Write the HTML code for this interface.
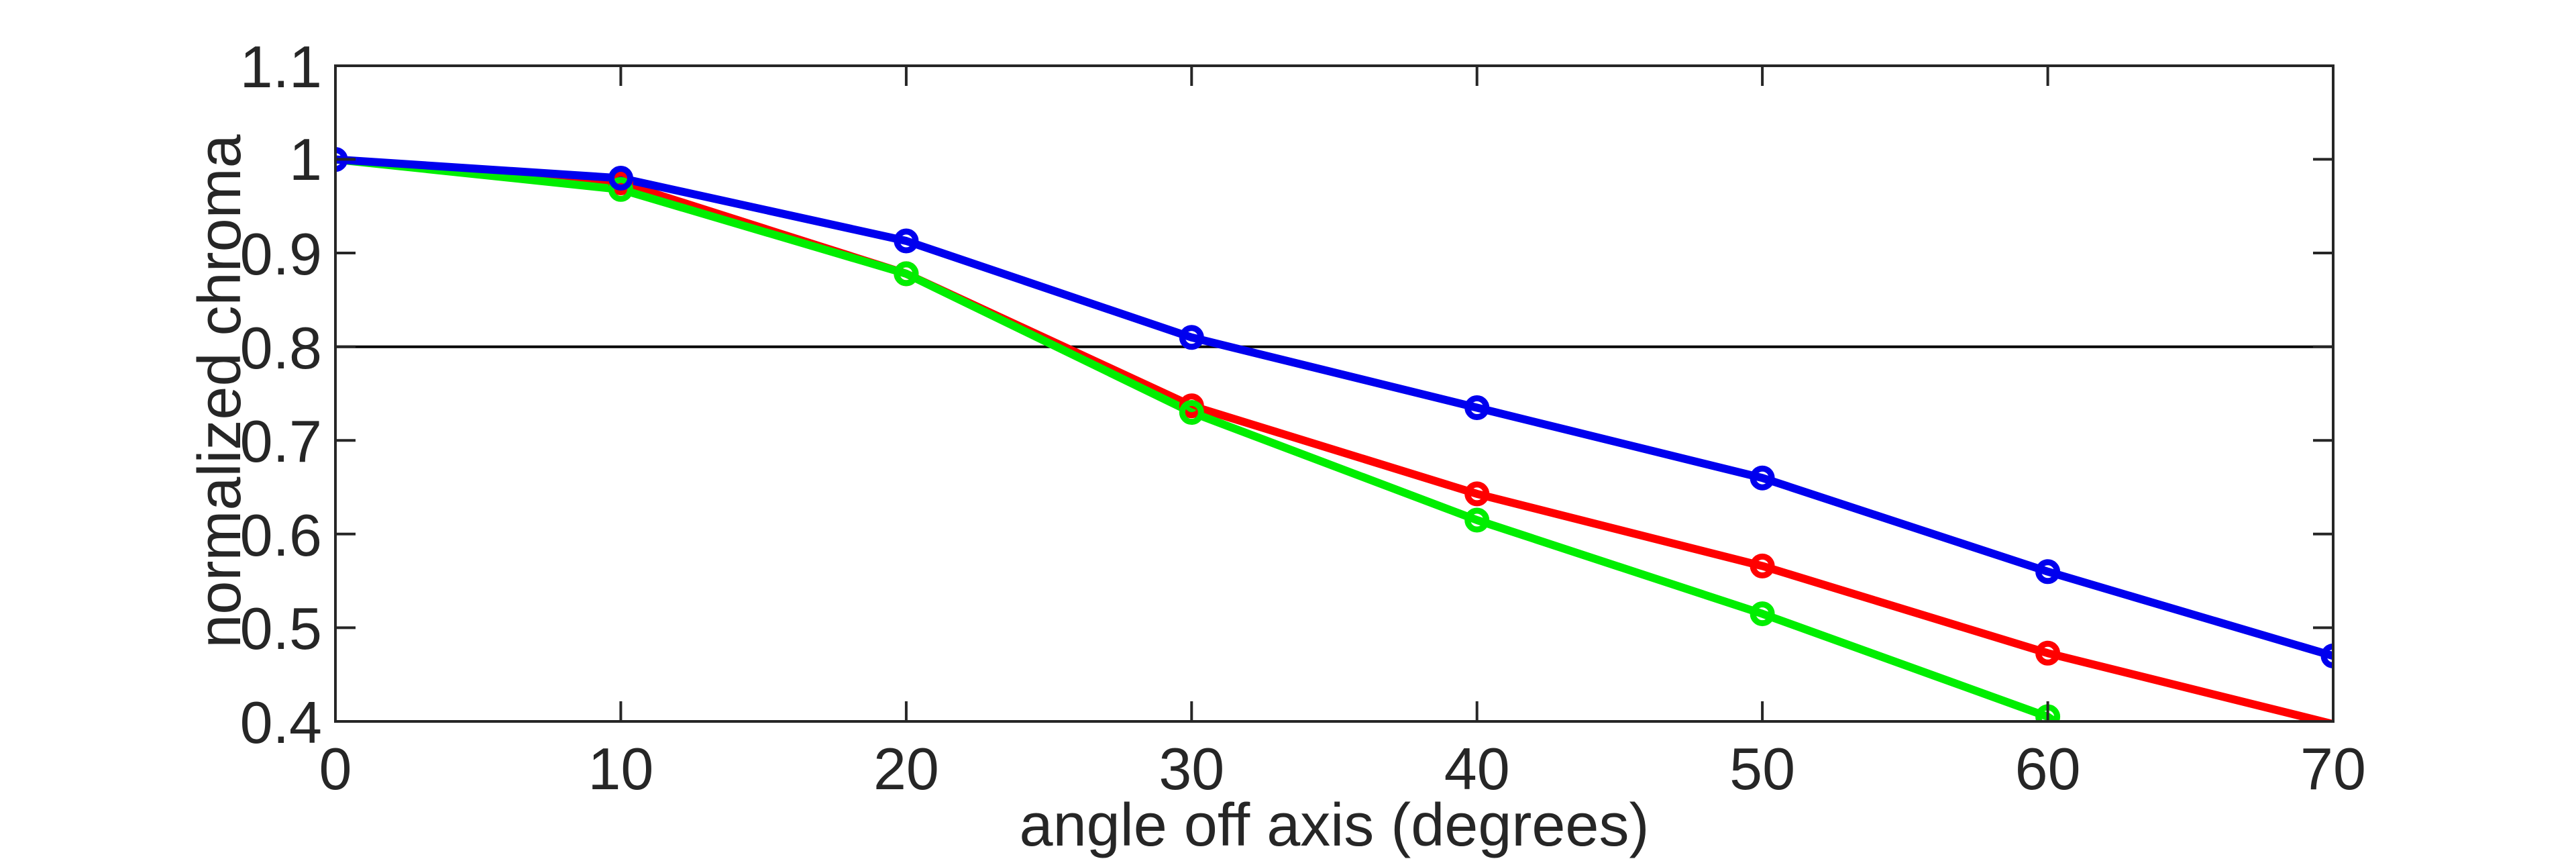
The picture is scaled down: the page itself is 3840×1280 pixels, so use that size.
<!DOCTYPE html>
<html><head><style>html,body{margin:0;padding:0;background:#fff;overflow:hidden}svg{display:block}</style></head>
<body>
<svg width="3840" height="1280" viewBox="0 0 3840 1280" xmlns="http://www.w3.org/2000/svg" font-family="Liberation Sans, Arial, sans-serif" fill="#262626">
<defs><clipPath id="c"><rect x="500" y="98" width="2978" height="977"/></clipPath></defs>
<rect width="3840" height="1280" fill="#fff"/>
<g clip-path="url(#c)" fill="none" stroke-width="12" stroke-linejoin="round">
<line x1="500" y1="516.8" x2="3478" y2="516.8" stroke="#000" stroke-width="4"/>
<polyline stroke="#ff0000" points="500,237.6 925.4,272.5 1350.9,407.9 1776.3,604.7 2201.7,735.9 2627.1,843.4 3052.6,973.3 3478,1079"/>
<polyline stroke="#00ee00" points="500,237.6 925.4,282.3 1350.9,407.9 1776.3,614.5 2201.7,775 2627.1,914.6 3052.6,1068 3478,1354"/>
<polyline stroke="#0000ee" points="500,237.6 925.4,265.5 1350.9,359 1776.3,502.8 2201.7,607.5 2627.1,712.2 3052.6,851.8 3478,977.4"/>
<g stroke-width="9">
<g stroke="#ff0000"><circle cx="925.4" cy="272.5" r="14"/><circle cx="1350.9" cy="407.9" r="14"/><circle cx="1776.3" cy="604.7" r="14"/><circle cx="2201.7" cy="735.9" r="14"/><circle cx="2627.1" cy="843.4" r="14"/><circle cx="3052.6" cy="973.3" r="14"/></g>
<g stroke="#00ee00"><circle cx="925.4" cy="282.3" r="14"/><circle cx="1350.9" cy="407.9" r="14"/><circle cx="1776.3" cy="614.5" r="14"/><circle cx="2201.7" cy="775" r="14"/><circle cx="2627.1" cy="914.6" r="14"/><circle cx="3052.6" cy="1068" r="14"/></g>
<g stroke="#0000ee"><circle cx="500" cy="237.6" r="14"/><circle cx="925.4" cy="265.5" r="14"/><circle cx="1350.9" cy="359" r="14"/><circle cx="1776.3" cy="502.8" r="14"/><circle cx="2201.7" cy="607.5" r="14"/><circle cx="2627.1" cy="712.2" r="14"/><circle cx="3052.6" cy="851.8" r="14"/><circle cx="3478" cy="977.4" r="14"/></g>
</g>
</g>
<g stroke="#262626" stroke-width="4" fill="none">
<rect x="500" y="98" width="2978" height="977"/>
<path d="M925.4,1075v-30M1350.9,1075v-30M1776.3,1075v-30M2201.7,1075v-30M2627.1,1075v-30M3052.6,1075v-30
M925.4,98v30M1350.9,98v30M1776.3,98v30M2201.7,98v30M2627.1,98v30M3052.6,98v30
M500,935.4h30M500,795.8h30M500,656.2h30M500,516.6h30M500,377h30M500,237.4h30
M3478,935.4h-30M3478,795.8h-30M3478,656.2h-30M3478,516.6h-30M3478,377h-30M3478,237.4h-30"/>
</g>
<g font-size="88" text-anchor="end">
<text x="480" y="1107">0.4</text><text x="480" y="967">0.5</text><text x="480" y="828">0.6</text><text x="480" y="688">0.7</text><text x="480" y="549">0.8</text><text x="480" y="409">0.9</text><text x="480" y="268">1</text><text x="480" y="130">1.1</text>
</g>
<g font-size="88" text-anchor="middle">
<text x="500" y="1176">0</text><text x="925.4" y="1176">10</text><text x="1350.9" y="1176">20</text><text x="1776.3" y="1176">30</text><text x="2201.7" y="1176">40</text><text x="2627.1" y="1176">50</text><text x="3052.6" y="1176">60</text><text x="3478" y="1176">70</text>
<text x="1989" y="1260" font-size="90">angle off axis (degrees)</text>
<text transform="translate(358,583) rotate(-90)" font-size="90">normalized chroma</text>
</g>
</svg>
</body></html>
